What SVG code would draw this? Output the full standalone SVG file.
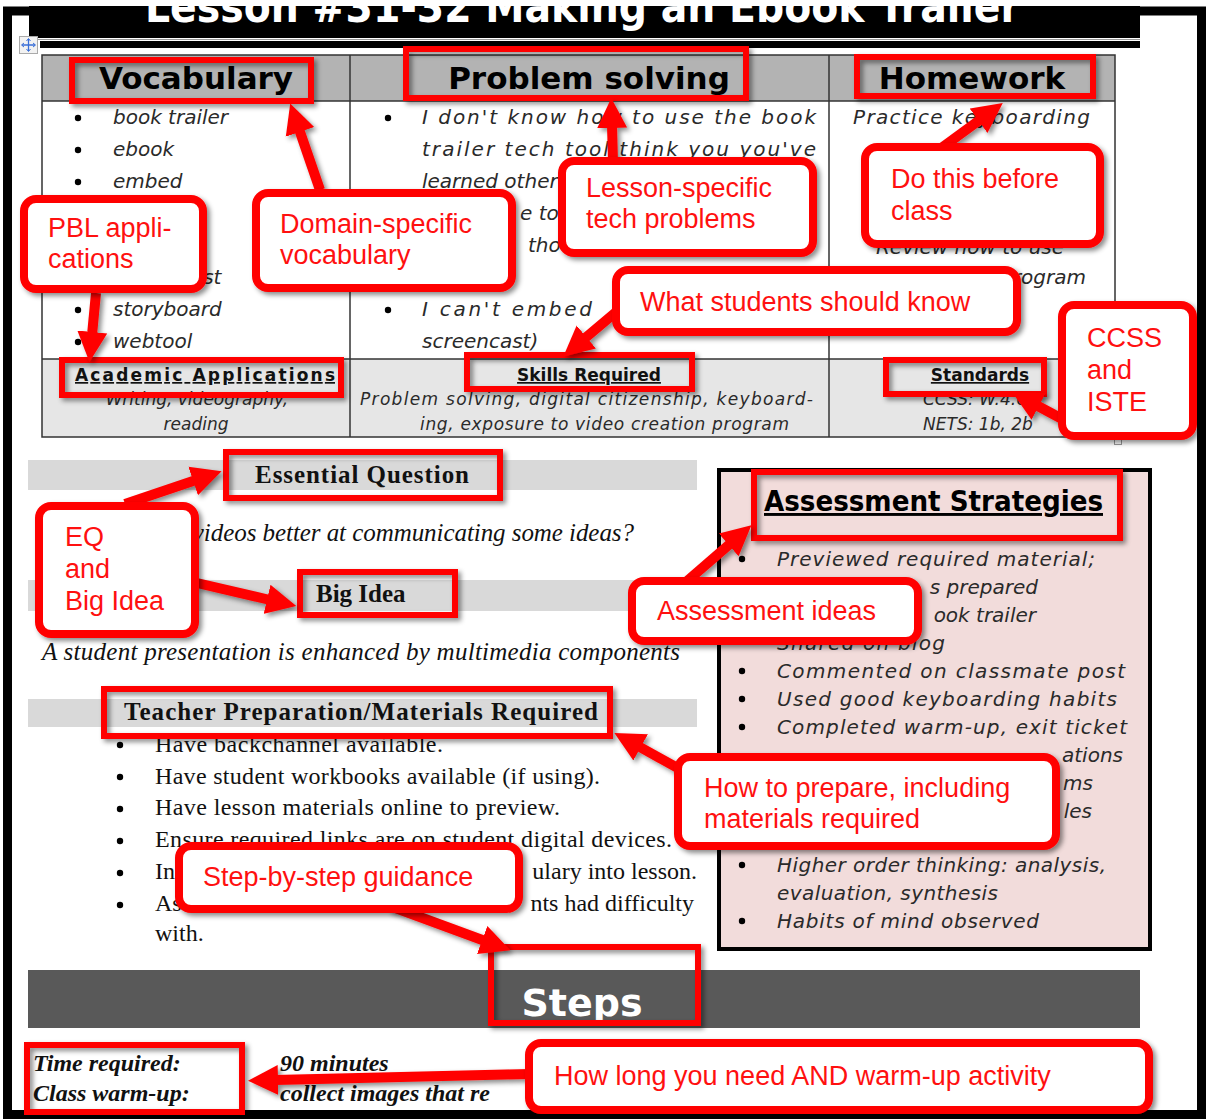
<svg xmlns="http://www.w3.org/2000/svg" width="1209" height="1119" viewBox="0 0 1209 1119">
<defs>
<filter id="sh" filterUnits="userSpaceOnUse" x="0" y="0" width="1209" height="1119">
<feDropShadow dx="3" dy="3" stdDeviation="2.5" flood-color="#000" flood-opacity="0.45"/>
</filter>
<marker id="ah" viewBox="0 0 10 10" refX="1" refY="5" markerWidth="3" markerHeight="3.2" orient="auto">
<path d="M0,0 L10,5 L0,10 z" fill="#ff0000"/>
</marker>
<clipPath id="barclip"><rect x="29" y="6" width="1111" height="32"/></clipPath>
<style>
.cap{font-family:"Liberation Sans",Arial,sans-serif;font-size:27px;fill:#ff1010}
.hdr{font-family:"DejaVu Sans",Verdana,sans-serif;font-weight:bold;font-size:31px;fill:#000}
.it{font-family:"DejaVu Sans",Verdana,sans-serif;font-style:italic;font-size:20px;fill:#2a2a2a}
.its{font-family:"DejaVu Sans",Verdana,sans-serif;font-style:italic;font-size:17px;fill:#2a2a2a}
.sub{font-family:"DejaVu Sans",Verdana,sans-serif;font-weight:bold;font-size:17px;fill:#111;text-decoration:underline}
.sb{font-family:"Liberation Serif","Times New Roman",serif;font-weight:bold;font-size:25px;fill:#111}
.si{font-family:"Liberation Serif","Times New Roman",serif;font-style:italic;font-size:25px;fill:#111}
.sr{font-family:"Liberation Serif","Times New Roman",serif;font-size:24px;fill:#111}
.sbi{font-family:"Liberation Serif","Times New Roman",serif;font-weight:bold;font-style:italic;font-size:24px;fill:#111}
.hl{fill:none;stroke:#ff0000;stroke-width:6;filter:url(#sh)}
.call{fill:#fff;stroke:#ff0000;stroke-width:8;filter:url(#sh)}
.arr{fill:none;stroke:#ff0000;stroke-width:10;marker-end:url(#ah)}
.tb{fill:none;stroke:#333;stroke-width:1.5}
.band{fill:#d9d9d9}
</style>
</defs>

<rect width="1209" height="1119" fill="#fff"/>

<g id="page">
<rect x="7.5" y="11" width="1194" height="1103.5" fill="none" stroke="#000" stroke-width="9"/>
<rect x="29" y="6" width="1111" height="32" fill="#000"/>
<text x="145" y="22" clip-path="url(#barclip)" textLength="875" lengthAdjust="spacingAndGlyphs" font-family="DejaVu Sans,sans-serif" font-weight="bold" font-size="44" fill="#fff">Lesson #31-32 Making an Ebook Trailer</text>
<line x1="29" y1="39.5" x2="1140" y2="39.5" stroke="#999" stroke-width="1"/>
<rect x="40" y="41" width="1100" height="7" fill="#000"/>
<rect x="19.5" y="36.5" width="18" height="17" fill="#f2f2f2" stroke="#aaa"/>
<path d="M28.5,39 V51 M22,45 H35" stroke="#3a6fd8" stroke-width="1.3"/>
<path d="M26.5,41 L28.5,38.5 L30.5,41 M26.5,49 L28.5,51.5 L30.5,49 M24,43 L21.5,45 L24,47 M33,43 L35.5,45 L33,47" stroke="#3a6fd8" fill="none" stroke-width="1"/>
</g>

<g id="table">
<rect x="42" y="55" width="1073" height="46" fill="#b3b3b3"/>
<rect x="42" y="359" width="1073" height="78" fill="#e6e6e6"/>
<rect x="42" y="55" width="1073" height="382" class="tb"/>
<line x1="42" y1="101" x2="1115" y2="101" class="tb"/>
<line x1="42" y1="359" x2="1115" y2="359" class="tb"/>
<line x1="350" y1="55" x2="350" y2="437" class="tb"/>
<line x1="829" y1="55" x2="829" y2="437" class="tb"/>
<rect x="1114.5" y="437.5" width="7" height="7" fill="#fff" stroke="#999"/>
<text class="hdr" x="196" y="89" text-anchor="middle">Vocabulary</text>
<text class="hdr" x="589" y="89" text-anchor="middle">Problem solving</text>
<text class="hdr" x="972" y="89" text-anchor="middle">Homework</text>

<g fill="#000">
<circle cx="78" cy="118" r="3.2"/><circle cx="78" cy="150" r="3.2"/><circle cx="78" cy="182" r="3.2"/>
<circle cx="78" cy="310" r="3.2"/><circle cx="78" cy="342" r="3.2"/>
<circle cx="388" cy="118" r="3.2"/><circle cx="388" cy="310" r="3.2"/>
</g>
<text class="it" x="113" y="124">book trailer</text>
<text class="it" x="113" y="156">ebook</text>
<text class="it" x="113" y="188">embed</text>
<text class="it" x="113" y="284">screencast</text>
<text class="it" x="113" y="316">storyboard</text>
<text class="it" x="113" y="348">webtool</text>

<text class="it" x="422" y="124" textLength="394">I don't know how to use the book</text>
<text class="it" x="422" y="156" textLength="394">trailer tech tool think you you've</text>
<text class="it" x="422" y="188">learned other</text>
<text class="it" x="520" y="220">e to</text>
<text class="it" x="528" y="252">tho</text>
<text class="it" x="422" y="316" textLength="170">I can't embed</text>
<text class="it" x="422" y="348">screencast)</text>

<text class="it" x="853" y="124" textLength="237">Practice keyboarding</text>
<text class="it" x="970" y="254" text-anchor="middle">Review how to use</text>
<text class="it" x="1086" y="284" text-anchor="end">program</text>

<text class="sub" x="205" y="381" text-anchor="middle" textLength="260">Academic Applications</text>
<text class="its" x="197" y="405" text-anchor="middle">Writing, videography,</text>
<text class="its" x="196" y="430" text-anchor="middle">reading</text>
<text class="sub" x="589" y="381" text-anchor="middle">Skills Required</text>
<text class="its" x="360" y="405" textLength="453">Problem solving, digital citizenship, keyboard-</text>
<text class="its" x="420" y="430" textLength="369">ing, exposure to video creation program</text>
<text class="sub" x="980" y="381" text-anchor="middle">Standards</text>
<text class="its" x="975" y="405" text-anchor="middle">CCSS: W.4.6</text>
<text class="its" x="978" y="430" text-anchor="middle">NETS: 1b, 2b</text>
</g>

<g id="middle">
<rect x="28" y="460" width="669" height="30" class="band"/>
<text class="sb" x="362" y="483" text-anchor="middle" textLength="214">Essential Question</text>
<text class="si" x="634" y="541" text-anchor="end" textLength="530">Why are videos better at communicating some ideas?</text>
<rect x="28" y="580" width="669" height="31" class="band"/>
<text class="sb" x="316" y="602">Big Idea</text>
<text class="si" x="42" y="660" textLength="638">A student presentation is enhanced by multimedia components</text>
<rect x="28" y="699" width="669" height="28" class="band"/>
<text class="sb" x="124" y="720" textLength="474">Teacher Preparation/Materials Required</text>
<g fill="#000">
<circle cx="120" cy="745" r="3.2"/><circle cx="120" cy="777" r="3.2"/><circle cx="120" cy="809" r="3.2"/>
<circle cx="120" cy="841" r="3.2"/><circle cx="120" cy="873" r="3.2"/><circle cx="120" cy="905" r="3.2"/>
</g>
<text class="sr" x="155" y="752" textLength="288">Have backchannel available.</text>
<text class="sr" x="155" y="784" textLength="445">Have student workbooks available (if using).</text>
<text class="sr" x="155" y="815" textLength="405">Have lesson materials online to preview.</text>
<text class="sr" x="155" y="847" textLength="517">Ensure required links are on student digital devices.</text>
<text class="sr" x="155" y="879">In</text>
<text class="sr" x="697" y="879" text-anchor="end">ulary into lesson.</text>
<text class="sr" x="155" y="911">As</text>
<text class="sr" x="694" y="911" text-anchor="end">nts had difficulty</text>
<text class="sr" x="155" y="941">with.</text>
</g>

<g id="assessment">
<rect x="719" y="470" width="431" height="479" fill="#f2dcdb" stroke="#000" stroke-width="4"/>
<text x="764" y="511" textLength="339" lengthAdjust="spacingAndGlyphs" font-family="DejaVu Sans,sans-serif" font-weight="bold" font-size="29" fill="#000" text-decoration="underline">Assessment Strategies</text>
<g fill="#000">
<circle cx="742" cy="559" r="3.2"/><circle cx="742" cy="671" r="3.2"/><circle cx="742" cy="699" r="3.2"/>
<circle cx="742" cy="727" r="3.2"/><circle cx="742" cy="865" r="3.2"/><circle cx="742" cy="921" r="3.2"/>
</g>
<text class="it" x="777" y="566" textLength="318">Previewed required material;</text>
<text class="it" x="1038" y="594" text-anchor="end">s prepared</text>
<text class="it" x="1036" y="622" text-anchor="end">ook trailer</text>
<text class="it" x="777" y="650" textLength="168">Shared on blog</text>
<text class="it" x="777" y="678" textLength="348">Commented on classmate post</text>
<text class="it" x="777" y="706" textLength="340">Used good keyboarding habits</text>
<text class="it" x="777" y="734" textLength="350">Completed warm-up, exit ticket</text>
<text class="it" x="1123" y="762" text-anchor="end">ations</text>
<text class="it" x="1093" y="790" text-anchor="end">ms</text>
<text class="it" x="1092" y="818" text-anchor="end">les</text>
<text class="it" x="777" y="872" textLength="329">Higher order thinking: analysis,</text>
<text class="it" x="777" y="900" textLength="221">evaluation, synthesis</text>
<text class="it" x="777" y="928" textLength="262">Habits of mind observed</text>
</g>

<g id="steps">
<rect x="28" y="970" width="1112" height="58" fill="#595959"/>
<text x="582" y="1016" text-anchor="middle" font-family="DejaVu Sans,sans-serif" font-weight="bold" font-size="38" fill="#fff">Steps</text>
<text class="sbi" x="33" y="1071">Time required:</text>
<text class="sbi" x="33" y="1101">Class warm-up:</text>
<text class="sbi" x="280" y="1071">90 minutes</text>
<text class="sbi" x="280" y="1101">collect images that re</text>
</g>

<g id="highlights">
<rect id="hl-vocab" class="hl" x="72" y="60" width="239" height="41"/>
<rect id="hl-problem" class="hl" x="406" y="49" width="340" height="49"/>
<rect id="hl-homework" class="hl" x="857" y="57" width="236" height="39"/>
<rect id="hl-academic" class="hl" x="62" y="360" width="279" height="35"/>
<rect id="hl-skills" class="hl" x="467" y="355" width="225" height="34"/>
<rect id="hl-standards" class="hl" x="886" y="360" width="158" height="34"/>
<rect id="hl-eq" class="hl" x="226" y="452" width="274" height="46"/>
<rect id="hl-bigidea" class="hl" x="300" y="572" width="155" height="43"/>
<rect id="hl-assess" class="hl" x="754" y="472" width="366" height="66"/>
<rect id="hl-teacher" class="hl" x="104" y="689" width="506" height="47"/>
<rect id="hl-steps" class="hl" x="491" y="947" width="207" height="76"/>
<rect id="hl-time" class="hl" x="27" y="1045" width="215" height="67"/>
</g>

<g id="connectors" filter="url(#sh)">
<path class="arr" d="M96,293 L92,335"/>
<path class="arr" d="M320,190 L299,129"/>
<path class="arr" d="M613,162 L612,125"/>
<path class="arr" d="M940,149 L981,119"/>
<path class="arr" d="M622,307 L584,339"/>
<path class="arr" d="M1064,420 L1036,405"/>
<path class="arr" d="M125,504 L196,480"/>
<path class="arr" d="M197,583 L270,600"/>
<path class="arr" d="M686,582 L731,543"/>
<path class="arr" d="M692,776 L638,746"/>
<path class="arr" d="M390,906 L485,941"/>
<path class="arr" d="M530,1074 L275,1080"/>
</g>

<g id="callout-pbl">
<rect class="call" x="24" y="199" width="179" height="90" rx="12"/>
<text class="cap" x="48" y="237">PBL appli-</text>
<text class="cap" x="48" y="268">cations</text>
</g>
<g id="callout-domain">
<rect class="call" x="256" y="193" width="256" height="95" rx="12"/>
<text class="cap" x="280" y="233">Domain-specific</text>
<text class="cap" x="280" y="264">vocabulary</text>
</g>
<g id="callout-lesson">
<rect class="call" x="562" y="161" width="251" height="92" rx="12"/>
<text class="cap" x="586" y="197">Lesson-specific</text>
<text class="cap" x="586" y="228">tech problems</text>
</g>
<g id="callout-homework">
<rect class="call" x="865" y="147" width="235" height="97" rx="12"/>
<text class="cap" x="891" y="188">Do this before</text>
<text class="cap" x="891" y="220">class</text>
</g>
<g id="callout-know">
<rect class="call" x="616" y="270" width="401" height="62" rx="12"/>
<text class="cap" x="640" y="311">What students should know</text>
</g>
<g id="callout-ccss">
<rect class="call" x="1062" y="305" width="131" height="131" rx="12"/>
<text class="cap" x="1087" y="347">CCSS</text>
<text class="cap" x="1087" y="379">and</text>
<text class="cap" x="1087" y="411">ISTE</text>
</g>
<g id="callout-eq">
<rect class="call" x="39" y="506" width="156" height="128" rx="12"/>
<text class="cap" x="65" y="546">EQ</text>
<text class="cap" x="65" y="578">and</text>
<text class="cap" x="65" y="610">Big Idea</text>
</g>
<g id="callout-assess">
<rect class="call" x="632" y="581" width="286" height="60" rx="12"/>
<text class="cap" x="657" y="620">Assessment ideas</text>
</g>
<g id="callout-prepare">
<rect class="call" x="678" y="757" width="378" height="89" rx="12"/>
<text class="cap" x="704" y="797">How to prepare, including</text>
<text class="cap" x="704" y="828">materials required</text>
</g>
<g id="callout-steps">
<rect class="call" x="179" y="846" width="340" height="63" rx="12"/>
<text class="cap" x="203" y="886">Step-by-step guidance</text>
</g>
<g id="callout-time">
<rect class="call" x="529" y="1043" width="620" height="67" rx="12"/>
<text class="cap" x="554" y="1085">How long you need AND warm-up activity</text>
</g>
</svg>
